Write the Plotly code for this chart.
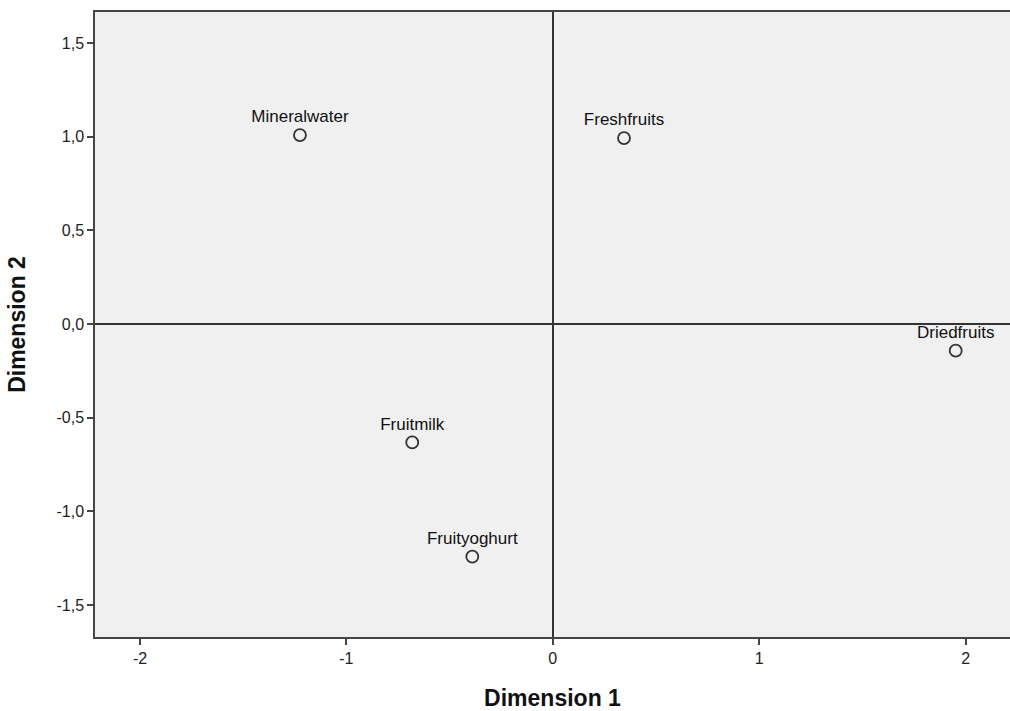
import plotly.graph_objects as go

categories = ["Mineralwater", "Freshfruits", "Driedfruits", "Fruitmilk", "Fruityoghurt"]
dim1 = [-1.225, 0.345, 1.952, -0.681, -0.390]
dim2 = [1.009, 0.993, -0.142, -0.632, -1.242]

x_ticks = [-2, -1, 0, 1, 2]
x_tick_labels = ["-2", "-1", "0", "1", "2"]
y_ticks = [-1.5, -1.0, -0.5, 0.0, 0.5, 1.0, 1.5]
y_tick_labels = ["-1,5", "-1,0", "-0,5", "0,0", "0,5", "1,0", "1,5"]

fig = go.Figure()
fig.add_trace(go.Scatter(
    x=dim1, y=dim2, mode="markers+text", text=categories,
    textposition="top center",
    textfont=dict(family="Liberation Sans, Arial", size=17, color="#111111"),
    marker=dict(symbol="circle-open", size=12, color="#333333", line=dict(width=1.8, color="#333333")),
    cliponaxis=True, showlegend=False,
))

axis_common = dict(
    showgrid=False, ticks="outside", ticklen=6, tickwidth=2, tickcolor="#444444",
    showline=True, linecolor="#444444", linewidth=1.5, mirror=True,
    zeroline=True, zerolinecolor="#333333", zerolinewidth=2,
    tickfont=dict(family="Liberation Sans, Arial", size=16, color="#222222"),
    automargin=False,
)

fig.update_layout(
    width=1010, height=711, autosize=False,
    margin=dict(l=95, r=0, t=12, b=74),
    paper_bgcolor="white", plot_bgcolor="#F0F0F0",
    xaxis=dict(range=[-2.218, 2.215], tickvals=x_ticks, ticktext=x_tick_labels,
               title=dict(text="<b>Dimension 1</b>", font=dict(family="Liberation Sans, Arial", size=23, color="#111111"), standoff=24),
               **axis_common),
    yaxis=dict(range=[-1.671, 1.666], tickvals=y_ticks, ticktext=y_tick_labels,
               title=dict(text="<b>Dimension 2</b>", font=dict(family="Liberation Sans, Arial", size=23, color="#111111"), standoff=24),
               **axis_common),
)

fig.write_html("out.html", config={"responsive": False, "displayModeBar": False},
               post_script="document.body.style.margin='0';document.body.style.overflow='hidden';")
